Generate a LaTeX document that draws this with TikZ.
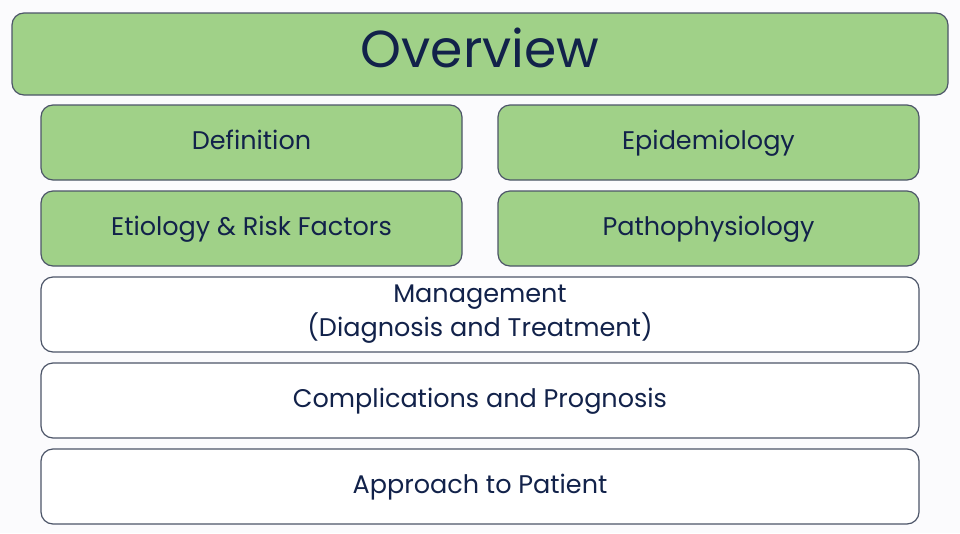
\documentclass[tikz,border=0pt]{standalone}
\usepackage{fontspec}
\setmainfont{Poppins}
\definecolor{boxgreen}{HTML}{A0D188}
\definecolor{boxedge}{HTML}{4C5568}
\definecolor{navy}{HTML}{12224A}
\definecolor{pagebg}{HTML}{FBFBFD}
\begin{document}
\begin{tikzpicture}[x=1pt,y=-1pt,
  panel/.style={draw=boxedge, line width=1.2pt, rounded corners=12pt, minimum height=75pt, text=navy, font=\fontsize{25.5}{34}\selectfont, align=center, inner sep=0pt},
  oneline/.style={text height=19pt, text depth=6pt},
  greenpanel/.style={panel, fill=boxgreen},
  whitepanel/.style={panel, fill=white}]
  \fill[pagebg] (0,0) rectangle (960,533);
  \useasboundingbox (0,0) rectangle (960,533);
  \node[greenpanel, minimum width=936pt, minimum height=82pt, font=\fontsize{52}{60}\selectfont, text height=38pt, text depth=12pt] (overview) at (480,54) {Overview};
  \node[greenpanel, oneline, minimum width=421pt] (def) at (251.5,142.5) {Definition};
  \node[greenpanel, oneline, minimum width=421pt] (epi) at (708.5,142.5) {Epidemiology};
  \node[greenpanel, oneline, minimum width=421pt] (eti) at (251.5,228.5) {Etiology \& Risk Factors};
  \node[greenpanel, oneline, minimum width=421pt] (path) at (708.5,228.5) {Pathophysiology};
  \node[whitepanel, minimum width=878pt] (mgmt) at (480,314.5) {Management\\(Diagnosis and Treatment)};
  \node[whitepanel, oneline, minimum width=878pt] (comp) at (480,400.5) {Complications and Prognosis};
  \node[whitepanel, oneline, minimum width=878pt] (appr) at (480,486.5) {Approach to Patient};
\end{tikzpicture}
\end{document}
